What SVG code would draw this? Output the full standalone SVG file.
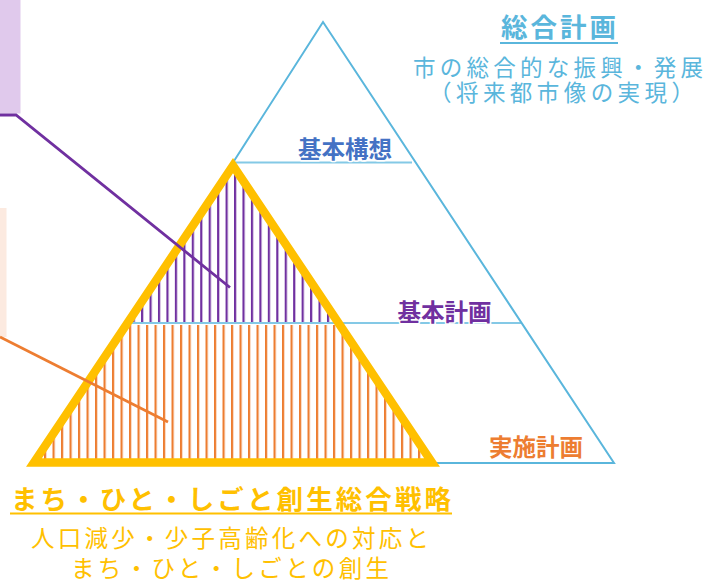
<svg xmlns="http://www.w3.org/2000/svg" width="708" height="583" viewBox="0 0 708 583">
<style>
text{font-family:"Noto Sans CJK JP","Noto Sans",sans-serif;}
.lbl{font-size:23.5px;font-weight:bold;text-anchor:middle;stroke:#fff;stroke-width:3px;paint-order:stroke;stroke-linejoin:round;}
.blue{fill:#5AB6DC;}
.yel{fill:#FFC000;}
.hl{stroke:#84C9E6;stroke-width:2;fill:none;}
.edge{stroke:#5AB6DC;stroke-width:2;fill:none;}
</style>
<defs>
<pattern id="hp" patternUnits="userSpaceOnUse" x="234" y="0" width="8.45" height="20"><rect x="0" y="0" width="2.2" height="20" fill="#7030A0"/></pattern>
<pattern id="ho" patternUnits="userSpaceOnUse" x="231" y="0" width="8.5" height="20"><rect x="0" y="0" width="2.2" height="20" fill="#ED7D31"/></pattern>
</defs>
<rect width="708" height="583" fill="#fff"/>

<g id="side-boxes">
<rect x="0" y="0" width="20.5" height="113.5" fill="#E0C9EC"/>
<rect x="0" y="208" width="6.5" height="129" fill="#FCEAE0"/>
</g>

<g id="hatch">
<polygon points="233,166 128,322 338,322" fill="url(#hp)"/>
<polygon points="127,325 339,325 432,462 34,462" fill="url(#ho)"/>
</g>

<g id="pyramid-main">
<line class="hl" x1="234" y1="162.5" x2="412" y2="162.5"/>
<line class="hl" x1="128" y1="323" x2="521" y2="323"/>
<polyline class="edge" points="234,161 323,22 614,463 432,463"/>
</g>

<g id="pyramid-strategy">
<polygon points="233,165.6 34,462.5 432,462.5" fill="none" stroke="#FFC000" stroke-width="8.5"/>
</g>

<g id="connectors">
<polyline points="0,115 16,115 230,287.5" fill="none" stroke="#7030A0" stroke-width="2.8"/>
<line x1="0" y1="337" x2="168" y2="422" stroke="#ED7D31" stroke-width="2.8"/>
</g>

<g id="label-kihon-koso"><text class="lbl" x="345" y="158" fill="#4472C4">基本構想</text></g>
<g id="label-kihon-keikaku"><text class="lbl" x="444.5" y="321" fill="#7030A0">基本計画</text></g>
<g id="label-jisshi-keikaku"><text class="lbl" x="536" y="456" fill="#ED7D31">実施計画</text></g>

<g id="sogo-keikaku">
<text class="blue" x="501" y="37" font-size="26.5" font-weight="bold" textLength="115" lengthAdjust="spacing">総合計画</text>
<line x1="500" y1="43" x2="618" y2="43" stroke="#5AB6DC" stroke-width="2"/>
<text class="blue" x="413" y="75.5" font-size="22.5" textLength="290" lengthAdjust="spacing">市の総合的な振興・発展</text>
<text class="blue" x="429" y="100.5" font-size="22.5" textLength="265" lengthAdjust="spacing">（将来都市像の実現）</text>
</g>

<g id="sousei-senryaku">
<text class="yel" x="11" y="508.5" font-size="26.5" font-weight="bold" textLength="440" lengthAdjust="spacing">まち・ひと・しごと創生総合戦略</text>
<line x1="10" y1="513.5" x2="452" y2="513.5" stroke="#FFC000" stroke-width="2"/>
<text class="yel" x="31" y="547" font-size="23.5" textLength="398" lengthAdjust="spacing">人口減少・少子高齢化への対応と</text>
<text class="yel" x="71" y="577" font-size="23.5" textLength="318" lengthAdjust="spacing">まち・ひと・しごとの創生</text>
</g>
</svg>
